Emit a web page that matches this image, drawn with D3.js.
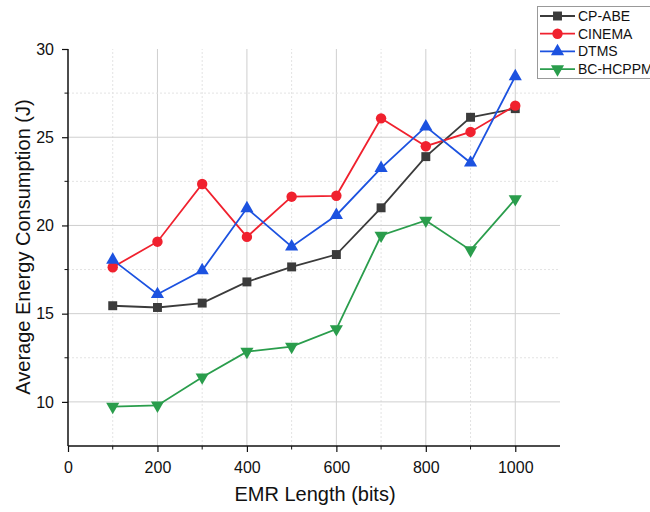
<!DOCTYPE html>
<html>
<head>
    <meta charset="utf-8">
    <title>Average Energy Consumption</title>
    <script src="https://d3js.org/d3.v7.min.js"></script>
    <style>
        body { margin: 0; background: #fff; }
        text { font-family: "Liberation Sans", Arial, sans-serif; fill: #111; }
    </style>
</head>
<body>
    <script>
        var xValues = [100, 200, 300, 400, 500, 600, 700, 800, 900, 1000];
        var cpAbe = [15.45, 15.35, 15.6, 16.8, 17.65, 18.35, 21.0, 23.9, 26.13, 26.62];
        var cinema = [17.63, 19.08, 22.35, 19.35, 21.63, 21.68, 26.07, 24.49, 25.3, 26.79];
        var dtms = [18.05, 16.1, 17.45, 20.97, 18.8, 20.58, 23.25, 25.6, 23.55, 28.45];
        var bcHcppm = [9.73, 9.8, 11.4, 12.85, 13.13, 14.13, 19.43, 20.28, 18.6, 21.5];
        var seriesNames = ["CP-ABE", "CINEMA", "DTMS", "BC-HCPPM"];
        var xTicks = [0, 200, 400, 600, 800, 1000];
        var yTicks = [10, 15, 20, 25, 30];

        var width = 650;
        var height = 512;

        var x = d3.scaleLinear().domain([0, 1100]).range([68, 560]);
        var y = d3.scaleLinear().domain([7.5, 30]).range([446, 49]);

        var series = [
            { name: seriesNames[0], values: cpAbe, color: "#3b3b3b", symbol: d3.symbolSquare, rot: 0 },
            { name: seriesNames[1], values: cinema, color: "#f0212e", symbol: d3.symbolCircle, rot: 0 },
            { name: seriesNames[2], values: dtms, color: "#1c52e0", symbol: d3.symbolTriangle, rot: 0 },
            { name: seriesNames[3], values: bcHcppm, color: "#2a9d4c", symbol: d3.symbolTriangle, rot: 180 }
        ];

        var svg = d3.select("body").append("svg")
            .attr("width", width)
            .attr("height", height);

        // grid: major solid, minor dotted
        var grid = svg.append("g");
        d3.range(200, 1100, 200).forEach(function(v) {
            grid.append("line").attr("x1", x(v)).attr("x2", x(v)).attr("y1", y(7.5)).attr("y2", y(30))
                .style("stroke", "#cfcfcf").style("stroke-width", 1);
        });
        d3.range(100, 1100, 200).forEach(function(v) {
            grid.append("line").attr("x1", x(v)).attr("x2", x(v)).attr("y1", y(7.5)).attr("y2", y(30))
                .style("stroke", "#e3e3e3").style("stroke-width", 1).style("stroke-dasharray", "2,2");
        });
        [10, 15, 20, 25].forEach(function(v) {
            grid.append("line").attr("x1", x(0)).attr("x2", x(1100)).attr("y1", y(v)).attr("y2", y(v))
                .style("stroke", "#cfcfcf").style("stroke-width", 1);
        });
        [12.5, 17.5, 22.5, 27.5].forEach(function(v) {
            grid.append("line").attr("x1", x(0)).attr("x2", x(1100)).attr("y1", y(v)).attr("y2", y(v))
                .style("stroke", "#e3e3e3").style("stroke-width", 1).style("stroke-dasharray", "2,2");
        });

        // axes
        var xAxis = svg.append("g")
            .attr("transform", "translate(0," + y(7.5) + ")")
            .call(d3.axisBottom(x).tickValues(xTicks).tickFormat(d3.format("d")).tickSize(6).tickPadding(10));
        xAxis.append("g").selectAll("line").data(d3.range(100, 1100, 200)).enter().append("line")
            .attr("x1", function(d) { return x(d); }).attr("x2", function(d) { return x(d); })
            .attr("y1", 0).attr("y2", 3.5).style("stroke", "#111");
        var yAxis = svg.append("g")
            .attr("transform", "translate(" + x(0) + ",0)")
            .call(d3.axisLeft(y).tickValues(yTicks).tickSize(6).tickPadding(8));
        yAxis.append("g").selectAll("line").data([12.5, 17.5, 22.5, 27.5]).enter().append("line")
            .attr("y1", function(d) { return y(d); }).attr("y2", function(d) { return y(d); })
            .attr("x1", 0).attr("x2", -3.5).style("stroke", "#111");
        [xAxis, yAxis].forEach(function(a) {
            a.select(".domain").style("stroke", "#111").style("stroke-width", 1.5);
            a.selectAll(".tick line").style("stroke", "#111").style("stroke-width", 1.2);
            a.selectAll("text").style("font-size", "16px").style("fill", "#111")
                .style("font-family", "Liberation Sans, Arial, sans-serif");
        });
        xAxis.select(".domain").attr("d", "M" + x(0) + ",0H" + x(1100));
        yAxis.select(".domain").attr("d", "M0," + y(7.5) + "V" + y(30));

        svg.append("text").attr("x", 315).attr("y", 501).attr("text-anchor", "middle")
            .style("font-size", "20px").text("EMR Length (bits)");
        svg.append("text").attr("transform", "translate(30,247) rotate(-90)").attr("text-anchor", "middle")
            .style("font-size", "20px").text("Average Energy Consumption (J)");

        // lines and markers
        var line = d3.line()
            .x(function(d, i) { return x(xValues[i]); })
            .y(function(d) { return y(d); });

        series.forEach(function(s) {
            svg.append("path").datum(s.values)
                .attr("d", line)
                .style("fill", "none").style("stroke", s.color).style("stroke-width", 1.8);
        });
        series.forEach(function(s) {
            var sym = d3.symbol().type(s.symbol).size(s.symbol === d3.symbolCircle ? 85 : (s.symbol === d3.symbolSquare ? 80 : 75));
            svg.append("g").selectAll("path").data(s.values).enter().append("path")
                .attr("d", sym)
                .attr("transform", function(d, i) {
                    return "translate(" + x(xValues[i]) + "," + y(d) + ") rotate(" + s.rot + ")";
                })
                .style("fill", s.color);
        });

        // legend
        var legend = svg.append("g");
        legend.append("rect").attr("x", 537.5).attr("y", 6.5).attr("width", 120).attr("height", 72)
            .style("fill", "#fff").style("stroke", "#999").style("stroke-width", 1);
        series.forEach(function(s, i) {
            var ly = 16 + i * 17.7;
            legend.append("line").attr("x1", 540).attr("x2", 575).attr("y1", ly).attr("y2", ly)
                .style("stroke", s.color).style("stroke-width", 1.8);
            var sym = d3.symbol().type(s.symbol).size(s.symbol === d3.symbolCircle ? 85 : (s.symbol === d3.symbolSquare ? 80 : 75));
            legend.append("path").attr("d", sym)
                .attr("transform", "translate(557.5," + ly + ") rotate(" + s.rot + ")")
                .style("fill", s.color);
            legend.append("text").attr("x", 578).attr("y", ly + 5)
                .style("font-size", "14px").text(s.name);
        });
    </script>
</body>
</html>
